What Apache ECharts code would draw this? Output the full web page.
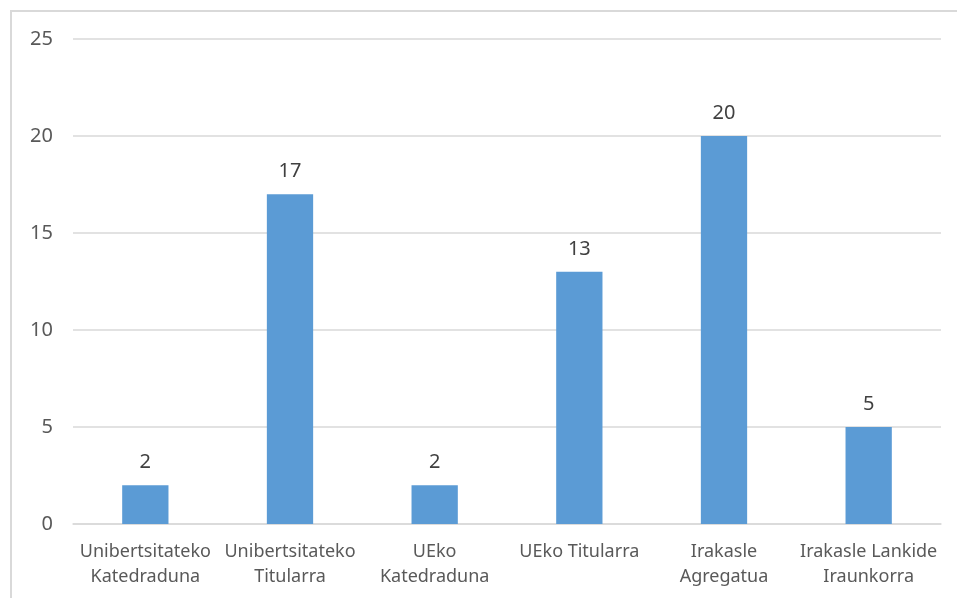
<!DOCTYPE html>
<html><head><meta charset="utf-8">
<script src="https://cdn.jsdelivr.net/npm/echarts@6/dist/echarts.min.js"></script>
<style>
html,body{margin:0;padding:0;background:#fff;overflow:hidden}
#frame{position:absolute;left:10px;top:10px;width:960px;height:600px;border:2px solid #d9d9d9;box-sizing:border-box}
#c{position:absolute;left:0;top:0;width:957px;height:598px}
</style></head><body>
<div id="frame"></div>
<div id="c"></div>
<script>
const categories = ['Unibertsitateko\nKatedraduna','Unibertsitateko\nTitularra','UEko\nKatedraduna','UEko Titularra','Irakasle\nAgregatua','Irakasle Lankide\nIraunkorra'];
const values = [2,17,2,13,20,5];
const chart = echarts.init(document.getElementById('c'));
const font = 'Noto Sans, sans-serif';
chart.setOption({
  animation:false,
  grid:{left:73,right:16,top:39,bottom:74,containLabel:false},
  xAxis:{type:'category',data:categories,
    axisLine:{lineStyle:{color:'#d9d9d9',width:1.5}},axisTick:{show:false},
    axisLabel:{color:'#595959',fontSize:18,fontFamily:font,lineHeight:25,margin:15,interval:0}},
  yAxis:{type:'value',min:0,max:25,interval:5,
    axisLine:{show:false},axisTick:{show:false},
    splitLine:{lineStyle:{color:'#d9d9d9',width:1.5}},
    axisLabel:{color:'#595959',fontSize:20,fontFamily:font,margin:20}},
  series:[{type:'bar',data:values,barWidth:'32%',
    itemStyle:{color:'#5b9bd5'},
    label:{show:true,position:'top',distance:13,color:'#404040',fontSize:20,fontFamily:font}}]
});
</script></body></html>
